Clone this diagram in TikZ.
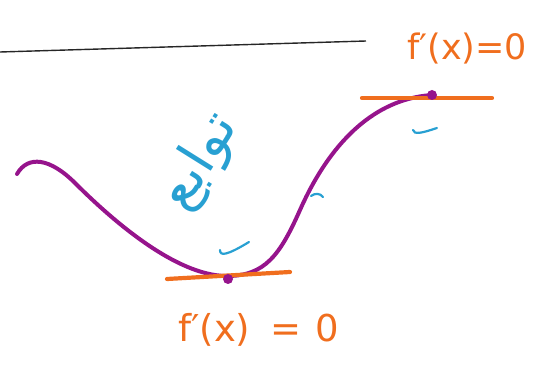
\documentclass[tikz,border=0pt]{standalone}
\usepackage{fontspec}
\TeXXeTstate=1
\newfontfamily\arabicfont[Script=Arabic]{DejaVu Sans}
\newfontfamily\labfont{DejaVu Sans}
\definecolor{penorange}{RGB}{240,110,30}
\definecolor{penpurple}{RGB}{150,20,140}
\definecolor{penblue}{RGB}{40,160,210}
\tikzset{
  curvepen/.style={draw=penpurple, line width=4pt, line cap=round},
  tangentpen/.style={draw=penorange, line width=4.2pt, line cap=round},
  tickpen/.style={draw=penblue, line width=2.2pt, line cap=round},
  dotmark/.style={circle, fill=penpurple, inner sep=0pt, minimum size=10pt},
  orangelabel/.style={text=penorange, font=\labfont\fontsize{35}{40}\selectfont, inner sep=0pt},
}
\begin{document}
\begin{tikzpicture}[x=1pt,y=-1pt]
\useasboundingbox (0,0) rectangle (542,366);
% black line
\coordinate (la) at (0,52);
\coordinate (lb) at (366,41);
\draw[line width=1.4pt, black!85] (la) -- (lb);
% purple curve
\draw[curvepen] (17,174) .. controls (28,155) and (50,158) .. (75,183)
  .. controls (110,218) and (175,276) .. (227,276)
  .. controls (265,276) and (280,255) .. (300,210)
  .. controls (320,165) and (360,100) .. (432,95);
% tangents
\coordinate (t1a) at (167,279);
\coordinate (t1b) at (290,272);
\draw[tangentpen] (t1a) -- (t1b);
\coordinate (t2a) at (362,98);
\coordinate (t2b) at (492,98);
\draw[tangentpen] (t2a) -- (t2b);
% dots
\node[dotmark] (dmin) at (228,279) {};
\node[dotmark] (dmax) at (432,95) {};
% blue ticks
\draw[tickpen] (220,250) .. controls (220,256) and (226,256) .. (249,242);
\draw[tickpen] (413,130) .. controls (414,135) and (422,133) .. (437,128);
\draw[tickpen] (311,196) .. controls (315,193) and (320,193) .. (323,197);
% arabic word
\node[text=penblue, rotate=58, inner sep=0pt] (word) at (200,162) {\arabicfont\fontsize{54}{60}\selectfont\beginR توابع\endR};
% labels
\node[orangelabel, anchor=west] (ltop) at (407,49) {f′(x)=0};
\node[orangelabel, anchor=west, font=\labfont\fontsize{37}{42}\selectfont] (lbot) at (178,330) {f′(x)\hspace{20pt}=\hspace{14pt}0};
\end{tikzpicture}
\end{document}
